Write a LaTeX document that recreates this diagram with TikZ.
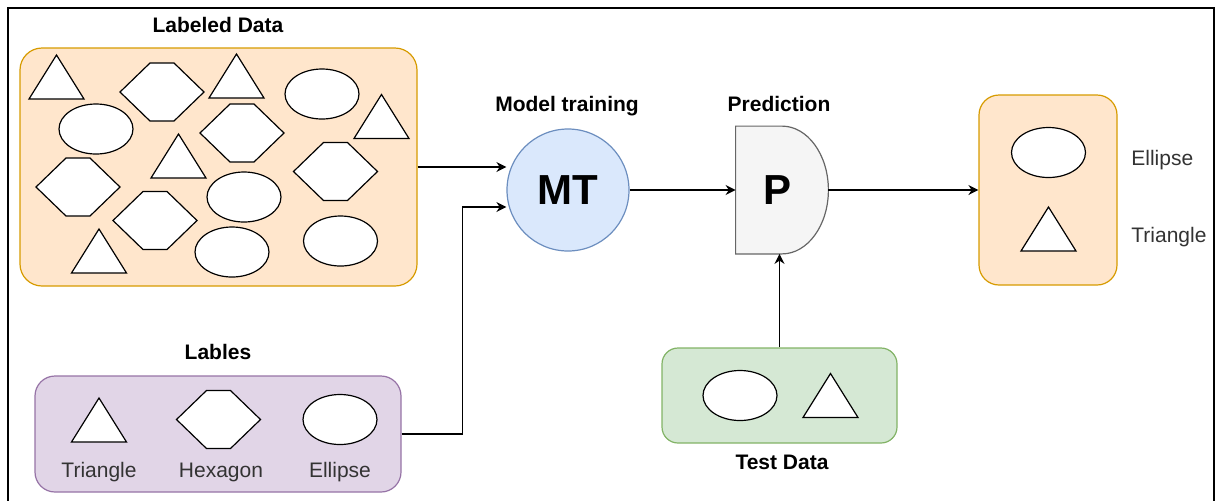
\documentclass[tikz,border=0pt]{standalone}
\usepackage{fontspec}
\setmainfont{Liberation Sans}
\usetikzlibrary{arrows.meta,calc,positioning,backgrounds}
\definecolor{peachfill}{HTML}{FFE6CC}
\definecolor{peachline}{HTML}{D79B00}
\definecolor{lilacfill}{HTML}{E1D5E7}
\definecolor{lilacline}{HTML}{9673A6}
\definecolor{greenfill}{HTML}{D5E8D4}
\definecolor{greenline}{HTML}{82B366}
\definecolor{bluefill}{HTML}{DAE8FC}
\definecolor{blueline}{HTML}{6C8EBF}
\definecolor{greyfill}{HTML}{F5F5F5}
\definecolor{greyline}{HTML}{666666}

\begin{document}
\begin{tikzpicture}[x=0.5pt,y=-0.5pt,
	box/.style={draw,rounded corners=11pt,line width=0.6pt,inner sep=0pt},
	title/.style={font=\bfseries\fontsize{10.5}{12}\selectfont,anchor=base,inner sep=0pt},
	caption/.style={font=\fontsize{10.5}{12}\selectfont,text=black!80,anchor=base,inner sep=0pt},
	bigtext/.style={font=\bfseries\fontsize{21}{24}\selectfont,inner sep=0pt},
	link/.style={-{Stealth[length=5pt,width=5pt]},line width=0.75pt},
	tri/.pic={\draw[fill=white,line width=0.6pt] (-27.5,22) -- (27.5,22) -- (0,-22) -- cycle;},
	hexa/.pic={\draw[fill=white,line width=0.6pt] (-42,0) -- (-12,-29) -- (12,-29) -- (42,0) -- (12,29) -- (-12,29) -- cycle;},
	oval/.pic={\draw[fill=white,line width=0.6pt] (0,0) ellipse [x radius=37,y radius=25];}]
		\useasboundingbox (0,0) rectangle (1216,500);
		\clip (0,0) rectangle (1216,500);
		% Cadre
		\draw[line width=1pt] (8,8) rectangle (1214,520);
		% Boites
		\node[box,fill=peachfill,draw=peachline,minimum width=198.5pt,minimum height=119pt] (labeled) at (218.5,167) {};
		\node[box,fill=lilacfill,draw=lilacline,minimum width=183pt,minimum height=58pt,rounded corners=10pt] (lables) at (218,434) {};
		\node[box,fill=peachfill,draw=peachline,minimum width=69pt,minimum height=95pt,rounded corners=10pt] (output) at (1048,190) {};
		\node[box,fill=greenfill,draw=greenline,minimum width=117.5pt,minimum height=47.5pt,rounded corners=8pt] (test) at (779.5,395.5) {};
		% Titres
		\node[title] (labeledtitle) at (218,32) {Labeled Data};
		\node[title] (lablestitle) at (218,359) {Lables};
		\node[title] (mttitle) at (567,111) {Model training};
		\node[title] (ptitle) at (779,111) {Prediction};
		\node[title] (testtitle) at (782,469) {Test Data};
		% Formes des donnees etiquetees
		\pic at (56.5,77) {tri};
		\pic at (236.5,76) {tri};
		\pic at (381.5,116.5) {tri};
		\pic at (178.5,156) {tri};
		\pic at (99,251) {tri};
		\pic at (162,92) {hexa};
		\pic at (242,133) {hexa};
		\pic at (78,187) {hexa};
		\pic at (335.5,171.5) {hexa};
		\pic at (155,220.5) {hexa};
		\pic at (322,94) {oval};
		\pic at (96,129) {oval};
		\pic at (244,197) {oval};
		\pic at (232,252) {oval};
		\pic at (340.5,241) {oval};
		% Etiquettes
		\pic at (99,420) {tri};
		\pic at (218.5,419.5) {hexa};
		\pic at (340,419.5) {oval};
		\node[caption] (tritext) at (99,477) {Triangle};
		\node[caption] (hexatext) at (221,477) {Hexagon};
		\node[caption] (ovaltext) at (340,477) {Ellipse};
		% Donnees de test
		\pic at (740,395.5) {oval};
		\pic at (830.5,395.5) {tri};
		% Sortie
		\pic at (1048.5,152.5) {oval};
		\pic at (1048.5,229) {tri};
		\node[caption,anchor=base west] (outoval) at (1131,165) {Ellipse};
		\node[caption,anchor=base west] (outtri) at (1131,242) {Triangle};
		% Entrainement et prediction
		\node[circle,draw=blueline,fill=bluefill,line width=0.6pt,minimum size=61pt,bigtext] (MT) at (568,190) {MT};
		\node[minimum width=46pt,minimum height=63.5pt,inner sep=0pt] (P) at (782,190) {};
		\node[bigtext] (Ptext) at (777,190) {P};
		\begin{scope}[on background layer]
			\filldraw[fill=greyfill,draw=greyline,line width=0.6pt] (P.north west) -- (P.north)
				.. controls ($(P.north)!0.552!(P.north east)$) and ($(P.east)!0.552!(P.north east)$) .. (P.east)
				.. controls ($(P.east)!0.552!(P.south east)$) and ($(P.south)!0.552!(P.south east)$) .. (P.south)
				-- (P.south west) -- cycle;
		\end{scope}
		% Fleches
		\draw[link] (labeled.east) -- (labeled.east -| MT.west);
		\draw[link] (lables.east) -- ++(61,0) |- ($(MT.west)+(0,17)$);
		\draw[link] (MT.east) -- (P.west);
		\draw[link] (P.east) -- (output.west);
		\draw[link] (test.north) -- (test.north |- P.south);
\end{tikzpicture}
\end{document}
